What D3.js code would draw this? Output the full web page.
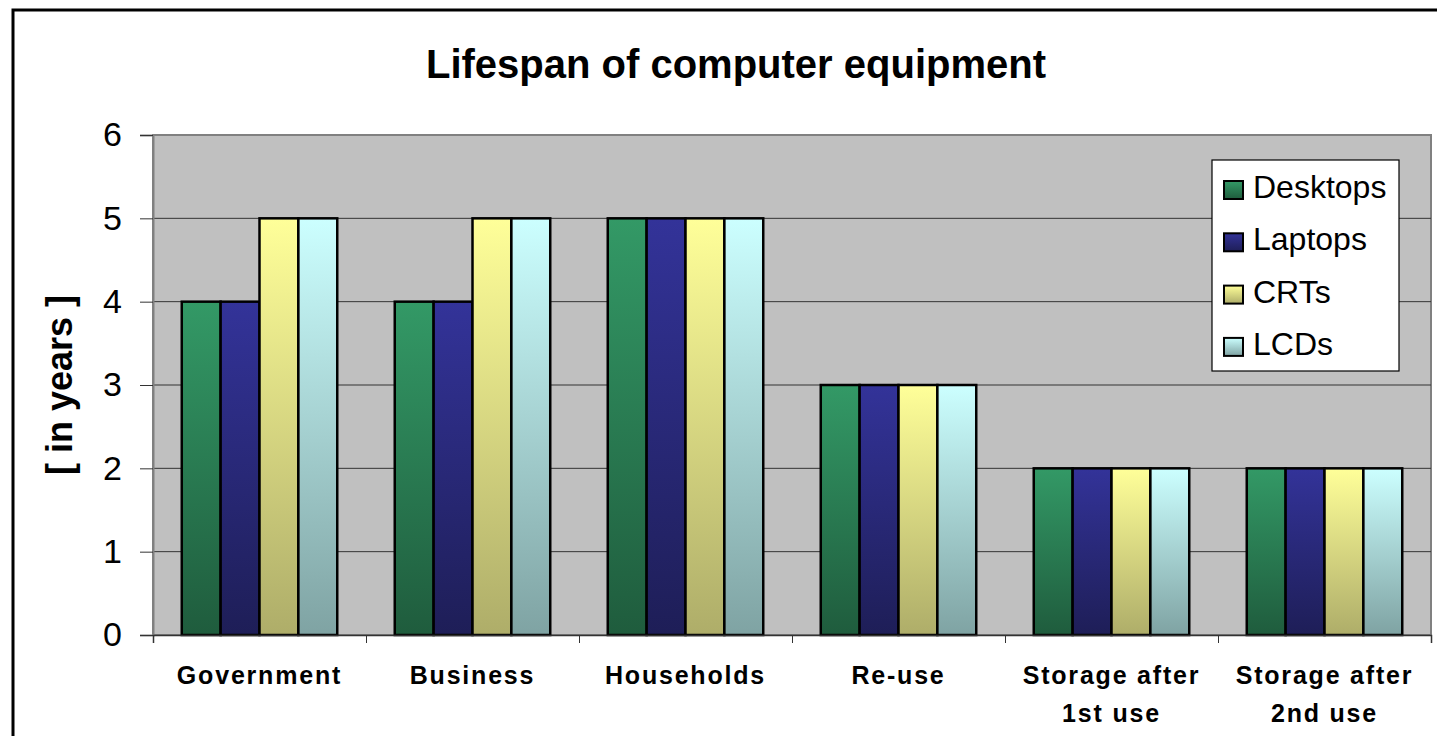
<!DOCTYPE html>
<html><head><meta charset="utf-8">
<script src="https://cdn.jsdelivr.net/npm/d3@7"></script>
<style>html,body{margin:0;padding:0;background:#fff;}svg{display:block;font-family:"Liberation Sans",Arial,sans-serif;}</style>
</head><body><svg id="c" width="1437" height="736"></svg>
<script>
const categories = [["Government"],["Business"],["Households"],["Re-use"],["Storage after","1st use"],["Storage after","2nd use"]];
const seriesNames = ["Desktops","Laptops","CRTs","LCDs"];
const desktops = [4,4,5,3,2,2];
const laptops  = [4,4,5,3,2,2];
const crts     = [5,5,5,3,2,2];
const lcds     = [5,5,5,3,2,2];
const yTicks = [0,1,2,3,4,5,6];
const topColors = ["#339966","#333399","#ffff99","#ccffff"];
const bottomColors = ["#1f5c3d","#1e1e57","#aead69","#7fa3a3"];
const seriesValues = [desktops,laptops,crts,lcds];

const svg = d3.select("#c");
const m = {left:153, top:135, right:1431, bottom:635};
const x0 = d3.scaleBand().domain(d3.range(categories.length)).range([m.left,m.right]).paddingInner(0.27).paddingOuter(0.135);
const x1 = d3.scaleBand().domain(d3.range(seriesNames.length)).range([0,x0.bandwidth()]);
const y = d3.scaleLinear().domain([0,6]).range([m.bottom,m.top]);

const defs = svg.append("defs");
seriesNames.forEach((s,i)=>{
  const g = defs.append("linearGradient").attr("id","g"+i).attr("x1",0).attr("y1",0).attr("x2",0).attr("y2",1);
  g.append("stop").attr("offset","0%").attr("stop-color",topColors[i]);
  g.append("stop").attr("offset","100%").attr("stop-color",bottomColors[i]);
});

// outer border
svg.append("rect").attr("x",13).attr("y",10).attr("width",1437).attr("height",740).attr("fill","#fff").attr("stroke","#000").attr("stroke-width",3);

// title
svg.append("text").attr("x",736).attr("y",78).attr("text-anchor","middle").attr("font-size",40).attr("font-weight","bold").text("Lifespan of computer equipment");

// plot area
svg.append("rect").attr("x",m.left).attr("y",m.top).attr("width",m.right-m.left).attr("height",m.bottom-m.top).attr("fill","#c0c0c0").attr("stroke","#808080").attr("stroke-width",2);

// gridlines
svg.append("g").selectAll("line").data(yTicks.filter(t=>t>0&&t<6)).join("line")
  .attr("x1",m.left).attr("x2",m.right).attr("y1",d=>y(d)).attr("y2",d=>y(d)).attr("stroke","#333").attr("stroke-width",1);

// bars
const gCat = svg.append("g").selectAll("g").data(categories).join("g").attr("transform",(d,i)=>`translate(${x0(i)},0)`);
gCat.selectAll("rect").data((d,i)=>seriesValues.map((s,j)=>({j,v:s[i]}))).join("rect")
  .attr("x",d=>x1(d.j)).attr("width",x1.bandwidth()).attr("y",d=>y(d.v)).attr("height",d=>y(0)-y(d.v))
  .attr("fill",d=>`url(#g${d.j})`).attr("stroke","#000").attr("stroke-width",2.5);

// y axis
const ya = svg.append("g").attr("transform",`translate(${m.left},0)`)
  .call(d3.axisLeft(y).tickValues(yTicks).tickSize(13).tickPadding(18).tickFormat(d3.format("d")));
ya.select(".domain").attr("stroke","#808080").attr("stroke-width",2);
ya.selectAll(".tick line").attr("stroke","#333");
ya.selectAll(".tick text").attr("font-size",34).attr("font-family","Liberation Sans, Arial, sans-serif").attr("fill","#000");

// x axis
const xb = d3.scaleLinear().domain([0,categories.length]).range([m.left,m.right]);
const xa = svg.append("g").attr("transform",`translate(0,${m.bottom})`)
  .call(d3.axisBottom(xb).ticks(categories.length).tickSize(8).tickFormat(""));
xa.select(".domain").attr("stroke","#333").attr("stroke-width",1.5);
xa.selectAll(".tick line").attr("stroke","#333");

svg.append("g").selectAll("text").data(categories).join("text")
  .attr("x",(d,i)=>x0(i)+x0.bandwidth()/2).attr("y",684).attr("text-anchor","middle")
  .attr("font-size",25).attr("font-weight","bold").attr("letter-spacing",1.8)
  .each(function(d){ d3.select(this).selectAll("tspan").data(d).join("tspan").attr("x",d3.select(this).attr("x")).attr("dy",(t,k)=>k===0?0:38).text(t=>t); });

// y title
svg.append("text").attr("transform","translate(72,385) rotate(-90)").attr("text-anchor","middle").attr("font-size",36).attr("font-weight","bold").text("[ in years ]");

// legend
const lg = svg.append("g");
lg.append("rect").attr("x",1212).attr("y",160).attr("width",187).attr("height",211).attr("fill","#fff").attr("stroke","#000").attr("stroke-width",1.2);
const le = lg.selectAll("g").data(seriesNames).join("g").attr("transform",(d,i)=>`translate(1224,${190+i*52.3})`);
le.append("rect").attr("x",0).attr("y",-9).attr("width",19).attr("height",18).attr("fill",(d,i)=>`url(#g${i})`).attr("stroke","#000").attr("stroke-width",2);
le.append("text").attr("x",29).attr("y",8).attr("font-size",32).text(d=>d);
</script></body></html>
